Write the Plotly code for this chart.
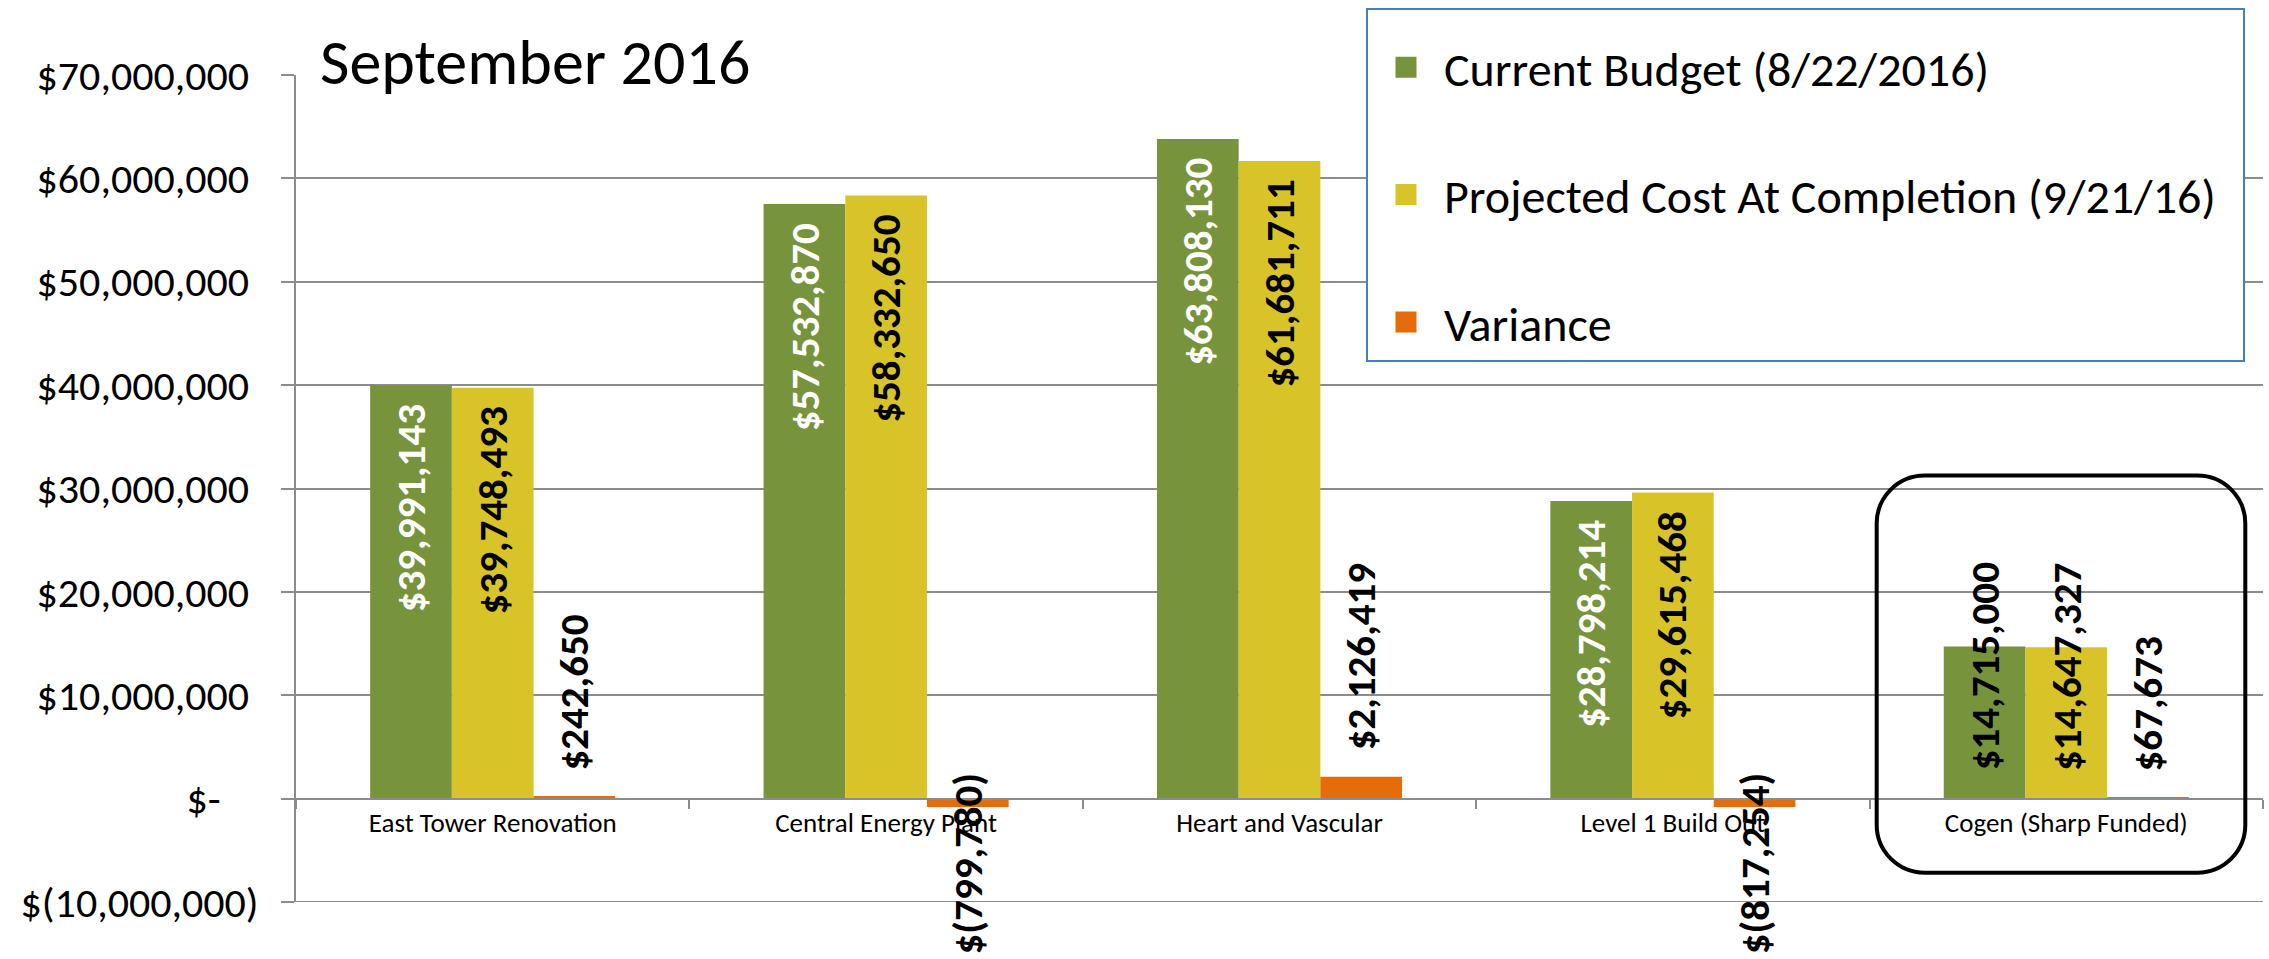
import plotly.graph_objects as go

# ---------------- data ----------------
categories = ["East Tower Renovation", "Central Energy Plant", "Heart and Vascular",
              "Level 1 Build Out", "Cogen (Sharp Funded)"]
current_budget = [39991143, 57532870, 63808130, 28798214, 14715000]
projected_cost = [39748493, 58332650, 61681711, 29615468, 14647327]
variance = [242650, -799780, 2126419, -817254, 67673]
series_names = ["Current Budget (8/22/2016)", "Projected Cost At Completion (9/21/16)", "Variance"]
y_tick_values = [-10e6, 0, 10e6, 20e6, 30e6, 40e6, 50e6, 60e6, 70e6]
y_tick_labels = ["$(10,000,000)", "$-", "$10,000,000", "$20,000,000", "$30,000,000",
                 "$40,000,000", "$50,000,000", "$60,000,000", "$70,000,000"]
grid_values = [-10e6, 0, 10e6, 20e6, 30e6, 40e6, 50e6, 60e6]
title_text = "September 2016"

# ---------------- styles ----------------
colors = ["#77933C", "#D8C428", "#E46C0A"]
inside_label_colors = ["white", "black", "black"]
FONT = "Calibri, Carlito, Lato, sans-serif"
GRID = "#8C8C8C"
BARGAP = 0.377
Y_RANGE = [-10e6, 70e6]
MIN_INSIDE_VALUE = 25e6  # bars shorter than this can't hold the rotated label inside
LEGEND_PAD = "\u00a0\u00a0"  # extra room at the right of the legend box


def money(v):
    if v < 0:
        return "$({:,.0f})".format(-v)
    return "${:,.0f}".format(v)


def pad_tick(t):
    if t == "$-":
        return t + "\u00a0\u00a0\u00a0\u00a0"
    if t.endswith(")"):
        return t
    return t + "\u00a0"


fig = go.Figure()
all_series = [current_budget, projected_cost, variance]
for k, (name, vals) in enumerate(zip(series_names, all_series)):
    fig.add_trace(go.Bar(x=categories, y=vals, name=name, marker_color=colors[k],
                         marker_line_width=0, showlegend=False, hoverinfo="x+y"))

# legend-only markers (bigger squares than bar legend symbols)
longest = max(len(n) for n in series_names)
for k, name in enumerate(series_names):
    label = name + (LEGEND_PAD if len(name) == longest else "")
    fig.add_trace(go.Scatter(x=[None], y=[None], mode="markers", name=label,
                             legendgroup=str(k), yaxis="y2",
                             marker=dict(symbol="square", size=16, color=colors[k],
                                         line=dict(color=colors[k], width=5))))

# data labels
bar_unit = (1 - BARGAP) / 3
annotations = []
for k, vals in enumerate(all_series):
    for i, v in enumerate(vals):
        xpos = i + (k - 1) * bar_unit
        common = dict(x=xpos, xref="x", yref="y", text=money(v), showarrow=False,
                      textangle=-90, xanchor="center",
                      font=dict(family=FONT, size=41, weight="bold"))
        if k < 2:
            if v >= MIN_INSIDE_VALUE:
                annotations.append(dict(common, y=v, yanchor="top", yshift=-17,
                                        font=dict(common["font"], color=inside_label_colors[k])))
            else:
                annotations.append(dict(common, y=0, yanchor="bottom", yshift=26,
                                        font=dict(common["font"], color="black")))
        else:
            if v >= 0:
                annotations.append(dict(common, y=v, yanchor="bottom", yshift=24,
                                        font=dict(common["font"], color="black")))
            else:
                annotations.append(dict(common, y=0, yanchor="top", yshift=28,
                                        font=dict(common["font"], color="black")))

# rounded highlight box around the last category
cx = len(categories) - 1
x0, x1 = cx - 0.482, cx + 0.455
y0, y1 = -7.16e6, 31.25e6
rx, ry = 0.122, 4.64e6
kk = 0.5523
path = (f"M {x0+rx},{y1} L {x1-rx},{y1} "
        f"C {x1-rx+kk*rx},{y1} {x1},{y1-ry+kk*ry} {x1},{y1-ry} "
        f"L {x1},{y0+ry} "
        f"C {x1},{y0+ry-kk*ry} {x1-rx+kk*rx},{y0} {x1-rx},{y0} "
        f"L {x0+rx},{y0} "
        f"C {x0+rx-kk*rx},{y0} {x0},{y0+ry-kk*ry} {x0},{y0+ry} "
        f"L {x0},{y1-ry} "
        f"C {x0},{y1-ry+kk*ry} {x0+rx-kk*rx},{y1} {x0+rx},{y1} Z")

shapes = [
    # bottom gridline (plotly drops grid lines sitting on the axis ends)
    dict(type="line", xref="paper", x0=0, x1=1, yref="y", y0=grid_values[0], y1=grid_values[0],
         line=dict(color=GRID, width=2), layer="below"),
    dict(type="path", path=path, xref="x", yref="y",
         line=dict(color="black", width=4), fillcolor="rgba(0,0,0,0)"),
]

fig.update_layout(
    width=2269, height=959,
    margin=dict(l=296, r=6, t=75, b=57, autoexpand=False),
    paper_bgcolor="white", plot_bgcolor="white",
    barmode="group", bargap=BARGAP, bargroupgap=0,
    font=dict(family=FONT, color="black"),
    title=dict(text=title_text, x=320 / 2269, xanchor="left", xref="container",
               y=1 - 62 / 959, yanchor="middle", yref="container",
               font=dict(family=FONT, size=64, color="black")),
    xaxis=dict(type="category", anchor="free", position=0.125,
               showline=True, linecolor=GRID, linewidth=2,
               ticks="outside", tickson="boundaries", ticklen=9, tickcolor=GRID, tickwidth=2,
               tickfont=dict(family=FONT, size=27, color="black"),
               showgrid=False, zeroline=False),
    yaxis=dict(range=Y_RANGE, tickvals=y_tick_values,
               ticktext=[pad_tick(t) for t in y_tick_labels],
               tickfont=dict(family=FONT, size=42, color="black"),
               ticks="outside", ticklen=13, tickcolor=GRID, tickwidth=2,
               ticklabelstandoff=14,
               showline=True, linecolor=GRID, linewidth=2,
               showgrid=False, zeroline=False),
    yaxis2=dict(range=Y_RANGE, overlaying="y", side="left", tickvals=grid_values,
                showgrid=True, gridcolor=GRID, gridwidth=2, showticklabels=False,
                ticks="", showline=False, zeroline=False),
    legend=dict(x=(1366 - 296) / 1967, xanchor="left", y=1 + 67 / 827, yanchor="top",
                bgcolor="white", bordercolor="#4A7EBB", borderwidth=2,
                font=dict(family=FONT, size=48, color="black"),
                itemwidth=66, tracegroupgap=62, traceorder="grouped",
                title=dict(text="\u00a0", font=dict(size=15))),
    annotations=annotations,
    shapes=shapes,
    showlegend=True,
)

fig.write_html("out.html", config={"displayModeBar": False},
               post_script="document.body.style.margin='0';document.body.style.overflow='hidden';")
